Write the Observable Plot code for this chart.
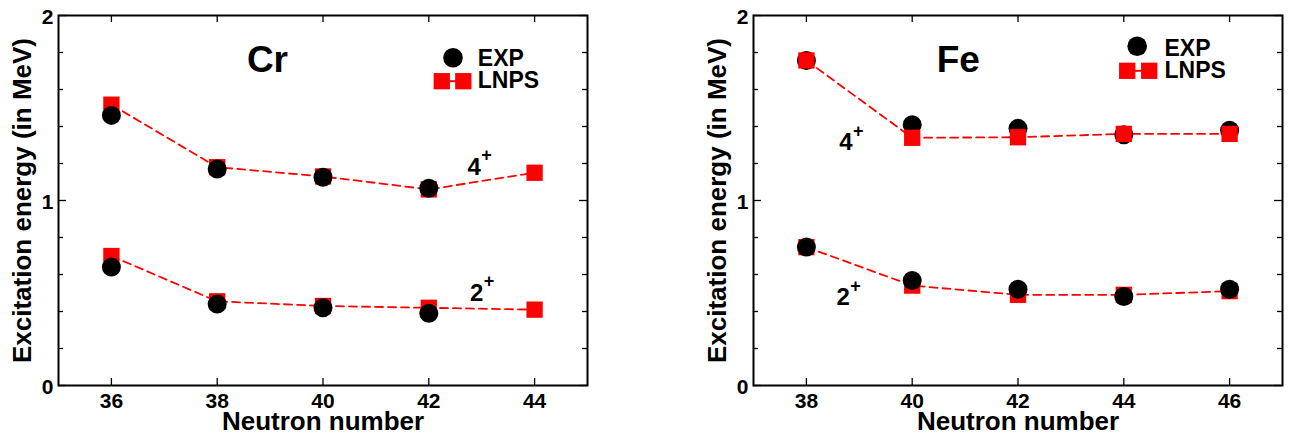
<!DOCTYPE html>
<html>
<head>
<meta charset="utf-8">
<script src="https://cdn.jsdelivr.net/npm/d3@7"></script>
<script src="https://cdn.jsdelivr.net/npm/@observablehq/plot@0.6"></script>
<style>
  body { margin: 0; background: #fff; }
  #wrap { position: relative; width: 1291px; height: 436px; overflow: hidden; }
  #left { position: absolute; left: 0; top: 0; }
  #right { position: absolute; left: 690px; top: 0; }
</style>
</head>
<body>
<div id="wrap"><div id="left"></div><div id="right"></div></div>
<script>
// ---- Cr data ----
const crN = [36, 38, 40, 42, 44];
const crExp2 = [0.64, 0.44, 0.42, 0.39];
const crLnps2 = [0.70, 0.455, 0.43, 0.42, 0.41];
const crExp4 = [1.46, 1.17, 1.126, 1.066];
const crLnps4 = [1.518, 1.18, 1.13, 1.06, 1.15];
const crXTicks = [36, 38, 40, 42, 44];
const crTitle = [{text: "Cr", n: 38.95, e: 1.757}];
const crStates = [
  {label: "4", sup: "+", n: 42.73, e: 1.182},
  {label: "2", sup: "+", n: 42.78, e: 0.501}
];

// ---- Fe data ----
const feN = [38, 40, 42, 44, 46];
const feExp2 = [0.748, 0.568, 0.52, 0.481, 0.52];
const feLnps2 = [0.748, 0.54, 0.49, 0.49, 0.51];
const feExp4 = [1.757, 1.41, 1.39, 1.355, 1.38];
const feLnps4 = [1.757, 1.339, 1.342, 1.36, 1.36];
const feXTicks = [38, 40, 42, 44, 46];
const feTitle = [{text: "Fe", n: 40.87, e: 1.757}];
const feStates = [
  {label: "4", sup: "+", n: 38.62, e: 1.312},
  {label: "2", sup: "+", n: 38.57, e: 0.474}
];

// ---- shared axis ticks / labels ----
const yTicks = [0, 1, 2];
const yMinor = [0.2, 0.4, 0.6, 0.8, 1.2, 1.4, 1.6, 1.8];
const yLabel = "Excitation energy (in MeV)";
const xLabel = "Neutron number";
const legendLabels = ["EXP", "LNPS"];

const FONT = '"Liberation Sans", Arial, Helvetica, sans-serif';
const H = 436, MT = 15, MB = 51;

function rows(n, vals, state) {
  return vals.map((v, i) => ({n: n[i], e: v, state}));
}

function panel(cfg) {
  const innerW = cfg.width - cfg.marginLeft - cfg.marginRight;
  const innerH = H - MT - MB;
  const exp2 = rows(cfg.n, cfg.exp2, "2+");
  const exp4 = rows(cfg.n, cfg.exp4, "4+");
  const lnps2 = rows(cfg.n, cfg.lnps2, "2+");
  const lnps4 = rows(cfg.n, cfg.lnps4, "4+");
  const lineStyle = {x: "n", y: "e", stroke: "#ff0000", strokeWidth: 1.8, strokeDasharray: "8,5"};
  const sq = (d) => Plot.dot(d, {x: "n", y: "e", symbol: "square", r: 9.2, fill: "#ff0000"});
  const ci = (d) => Plot.dot(d, {x: "n", y: "e", symbol: "circle", r: 9.5, fill: "black"});
  const dotMarks = cfg.feOrder
    ? [sq(lnps2), ci(exp2), ci(exp4), sq(lnps4)]
    : [sq(lnps2), sq(lnps4), ci(exp2), ci(exp4)];
  const L = cfg.legend;
  const tf = {fontFamily: FONT, fontWeight: "bold", fill: "black"};
  return Plot.plot({
    width: cfg.width,
    height: H,
    marginTop: MT,
    marginBottom: MB,
    marginLeft: cfg.marginLeft,
    marginRight: cfg.marginRight,
    style: {fontFamily: FONT, background: "white", overflow: "visible"},
    x: {domain: cfg.xDomain},
    y: {domain: [0, 2]},
    marks: [
      // inward ticks
      Plot.tickX(cfg.xTicks, {x: d => d, insetBottom: innerH - 7, stroke: "black", strokeWidth: 1.3}),
      Plot.tickX(cfg.xTicks, {x: d => d, insetTop: innerH - 7, stroke: "black", strokeWidth: 1.3}),
      Plot.tickY(yTicks, {y: d => d, insetRight: innerW - 8, stroke: "black", strokeWidth: 1.3}),
      Plot.tickY(yTicks, {y: d => d, insetLeft: innerW - 8, stroke: "black", strokeWidth: 1.3}),
      Plot.tickY(yMinor, {y: d => d, insetRight: innerW - 5, stroke: "black", strokeWidth: 1.3}),
      Plot.tickY(yMinor, {y: d => d, insetLeft: innerW - 5, stroke: "black", strokeWidth: 1.3}),
      Plot.axisX(cfg.xTicks, {tickSize: 0, tickPadding: 8, tickFormat: "d", fontSize: 21, fontWeight: "bold", label: null, fill: "black"}),
      Plot.axisY(yTicks, {tickSize: 0, tickPadding: 5, tickFormat: "d", fontSize: 21, fontWeight: "bold", label: null, dy: 2, fill: "black"}),
      Plot.frame({stroke: "black", strokeWidth: 2}),
      // axis titles
      Plot.text([yLabel], {frameAnchor: "left", rotate: -90, dx: -36, fontSize: 26, textAnchor: "middle", lineAnchor: "middle", ...tf}),
      Plot.text([xLabel], {frameAnchor: "bottom", dy: 36, fontSize: 26, textAnchor: "middle", lineAnchor: "middle", ...tf}),
      // data
      Plot.line([...lnps2, ...lnps4], {...lineStyle, z: "state"}),
      ...dotMarks,
      // annotations
      Plot.text(cfg.title, {x: "n", y: "e", text: "text", fontSize: 37, lineAnchor: "middle", ...tf}),
      Plot.text(cfg.states, {x: "n", y: "e", text: "label", textAnchor: "start", fontSize: 24, lineAnchor: "middle", ...tf}),
      Plot.text(cfg.states, {x: "n", y: "e", text: "sup", dx: 19, dy: -11.5, textAnchor: "middle", fontSize: 18, lineAnchor: "middle", ...tf}),
      // legend
      Plot.dot([null], {frameAnchor: "top-left", dx: L.cx, dy: L.cy, r: 9.8, fill: "black"}),
      Plot.dot([null], {frameAnchor: "top-left", dx: (L.s1 + L.s2) / 2, dy: L.sy, stroke: "#ff0000", strokeWidth: 2,
        symbol: {draw(ctx) { ctx.moveTo(-11, 0); ctx.lineTo(11, 0); }}}),
      Plot.dot([null], {frameAnchor: "top-left", dx: L.s1, dy: L.sy, symbol: "square", r: 9.2, fill: "#ff0000"}),
      Plot.dot([null], {frameAnchor: "top-left", dx: L.s2, dy: L.sy, symbol: "square", r: 9.2, fill: "#ff0000"}),
      Plot.text([legendLabels[0]], {frameAnchor: "top-left", dx: L.tx, dy: L.ty1, textAnchor: "start", lineAnchor: "middle", fontSize: 23, ...tf}),
      Plot.text([legendLabels[1]], {frameAnchor: "top-left", dx: L.tx, dy: L.ty2, textAnchor: "start", lineAnchor: "middle", fontSize: 23, ...tf})
    ]
  });
}

document.getElementById("left").appendChild(panel({
  width: 600, marginLeft: 58, marginRight: 13,
  xDomain: [35, 45], xTicks: crXTicks, n: crN,
  exp2: crExp2, lnps2: crLnps2, exp4: crExp4, lnps4: crLnps4,
  title: crTitle, states: crStates, feOrder: false,
  legend: {cx: 394.5, cy: 42.3, s1: 383.3, s2: 404.8, sy: 65.7, tx: 419.3, ty1: 43, ty2: 65.6}
}));

document.getElementById("right").appendChild(panel({
  width: 601, marginLeft: 63, marginRight: 9,
  xDomain: [37, 47], xTicks: feXTicks, n: feN,
  exp2: feExp2, lnps2: feLnps2, exp4: feExp4, lnps4: feLnps4,
  title: feTitle, states: feStates, feOrder: true,
  legend: {cx: 383.7, cy: 30.7, s1: 373.7, s2: 395.7, sy: 55.3, tx: 411, ty1: 33, ty2: 55.6}
}));
</script>
</body>
</html>
